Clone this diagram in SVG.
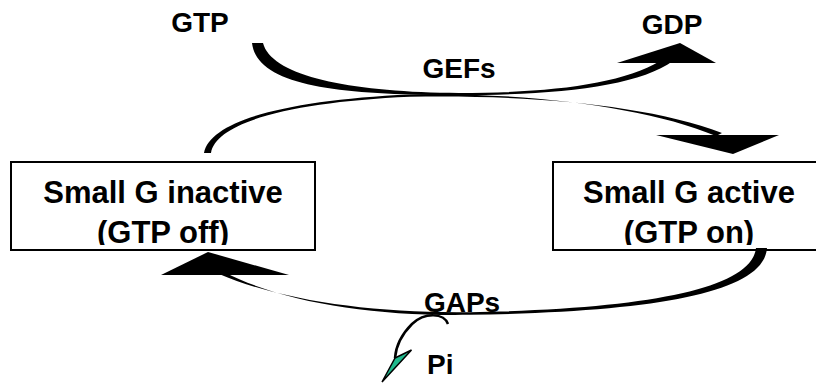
<svg xmlns="http://www.w3.org/2000/svg" width="816" height="383" viewBox="0 0 816 383">
  <style>
    .lbl { font-family: "Liberation Sans", Arial, sans-serif; font-weight: bold; font-size: 28px; fill: #000; }
    .box-text { font-family: "Liberation Sans", Arial, sans-serif; font-weight: bold; font-size: 31px; fill: #000; text-anchor: middle; }
    .box { fill: #fff; stroke: #000; stroke-width: 2; }
    .ink { fill: #000; stroke: none; }
    .line { fill: none; stroke: #000; stroke-width: 2.5; }
  </style>
  <defs>
    <clipPath id="clipLeft"><rect x="11" y="162" width="304" height="83"/></clipPath>
    <clipPath id="clipRight"><rect x="553" y="162" width="270" height="83"/></clipPath>
  </defs>
  <rect width="816" height="383" fill="#fff"/>

  <g id="node-inactive">
    <rect class="box" x="11" y="162" width="304" height="88"/>
    <g clip-path="url(#clipLeft)">
      <text class="box-text" x="163" y="203">Small G inactive</text>
      <text class="box-text" x="163" y="243">(GTP off)</text>
    </g>
  </g>

  <g id="node-active">
    <rect class="box" x="553" y="162" width="272" height="88"/>
    <g clip-path="url(#clipRight)">
      <text class="box-text" x="689" y="203">Small G active</text>
      <text class="box-text" x="689" y="243">(GTP on)</text>
    </g>
  </g>

  <g id="label-gtp"><text class="lbl" x="200" y="32" text-anchor="middle">GTP</text></g>
  <g id="label-gdp"><text class="lbl" x="672" y="34" text-anchor="middle">GDP</text></g>
  <g id="label-gefs"><text class="lbl" x="459" y="78" text-anchor="middle">GEFs</text></g>
  <g id="label-gaps"><text class="lbl" x="462" y="312" text-anchor="middle">GAPs</text></g>
  <g id="label-pi"><text class="lbl" x="427" y="374">Pi</text></g>

  <g id="connectors">
    <!-- GTP -> GDP (GEFs) tapered curve -->
    <path class="ink" d="M252,43 L263,43 C271,74 340,90 440,92.8 C540,94 618,86 660,61 L673,61 C636,88 545,96.3 440,95.1 C330,94 257,84 252,43 Z"/>
    <polygon class="ink" points="617,63 680,43 716,63"/>
    <!-- inactive -> active (GEFs) -->
    <path class="ink" d="M204,153 C210,121 285,100 410,94.4 C520,92 645,106 716,136 L722,133 C648,104 520,94.5 410,96.8 C292,102 216,122 211,153 Z"/>
    <polygon class="ink" points="656,135 779,135 733,154"/>
    <!-- active -> inactive (GAPs) -->
    <path class="ink" d="M756,248 L767,248 C764,292 660,312 470,314.8 C372,316.5 282,302 224,272 L219,274 C280,300 370,313.5 470,312.2 C650,309 752,288 756,248 Z"/>
    <polygon class="ink" points="161,275 208,252 289,275"/>
    <!-- Pi release -->
    <path class="line" d="M448,324 C444,313 425,312 412,324 C402,334 396,345 395,358"/>
    <polygon points="395,358 411.5,350 382,382" fill="#1fb88c" stroke="#000" stroke-width="1.5" stroke-linejoin="miter"/>
  </g>
</svg>
